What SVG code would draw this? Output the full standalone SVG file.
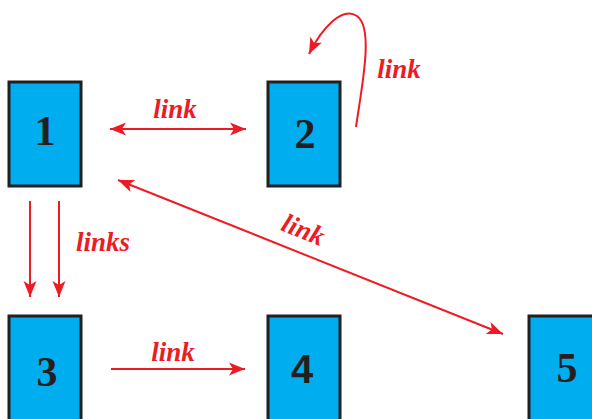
<svg xmlns="http://www.w3.org/2000/svg" width="592" height="419" viewBox="0 0 592 419">
  <style>
    .box { fill: #00aeef; stroke: #231f20; stroke-width: 3; }
    .num { font-family: "Liberation Serif", "Times New Roman", serif; font-weight: bold; font-size: 42px; fill: #231f20; text-anchor: middle; }
    .num-sans { font-family: "Liberation Sans", Arial, sans-serif; font-weight: bold; font-size: 40px; fill: #231f20; text-anchor: middle; }
    .edge { fill: none; stroke: #ed1c24; stroke-width: 2; }
    .lbl { font-family: "Liberation Serif", "Times New Roman", serif; font-weight: bold; font-style: italic; font-size: 27px; fill: #ed1c24; text-anchor: middle; }
  </style>
  <defs>
    <marker id="arrow" markerUnits="userSpaceOnUse" markerWidth="20" markerHeight="16" viewBox="-18 -8 20 16" refX="0" refY="0" orient="auto-start-reverse">
      <path d="M0,0 L-16,-6.5 L-12,0 L-16,6.5 Z" fill="#ed1c24"/>
    </marker>
  </defs>

  <g id="node-1">
    <rect class="box" x="9" y="82" width="72" height="104"/>
    <text class="num" x="45" y="145">1</text>
  </g>
  <g id="node-2">
    <rect class="box" x="268" y="82" width="72" height="104"/>
    <text class="num" x="305" y="148">2</text>
  </g>
  <g id="node-3">
    <rect class="box" x="9" y="316" width="72" height="110"/>
    <text class="num" x="47" y="386">3</text>
  </g>
  <g id="node-4">
    <rect class="box" x="268" y="316" width="72" height="110"/>
    <text class="num-sans" x="302" y="383">4</text>
  </g>
  <g id="node-5">
    <rect class="box" x="529" y="316" width="72" height="110"/>
    <text class="num" x="567" y="382">5</text>
  </g>

  <g id="connectors">
    <!-- 1 <-> 2 -->
    <line class="edge" x1="110" y1="129" x2="246" y2="129" marker-start="url(#arrow)" marker-end="url(#arrow)"/>
    <text class="lbl" x="175" y="118">link</text>
    <!-- 2 self loop -->
    <path class="edge" d="M356,127 C362,85 374,28 357,16 C342,6 322,28 309,54" marker-end="url(#arrow)"/>
    <text class="lbl" x="399" y="78">link</text>
    <!-- 1 -> 3 (two links) -->
    <line class="edge" x1="30" y1="201" x2="30" y2="297" marker-end="url(#arrow)"/>
    <line class="edge" x1="59" y1="201" x2="59" y2="297" marker-end="url(#arrow)"/>
    <text class="lbl" x="103" y="251">links</text>
    <!-- 1 <-> 5 -->
    <line class="edge" x1="118" y1="180" x2="503" y2="334" marker-start="url(#arrow)" marker-end="url(#arrow)"/>
    <text class="lbl" transform="translate(300,238) rotate(22)" x="0" y="0">link</text>
    <!-- 3 -> 4 -->
    <line class="edge" x1="111" y1="369" x2="245" y2="369" marker-end="url(#arrow)"/>
    <text class="lbl" x="173" y="361">link</text>
  </g>
</svg>
